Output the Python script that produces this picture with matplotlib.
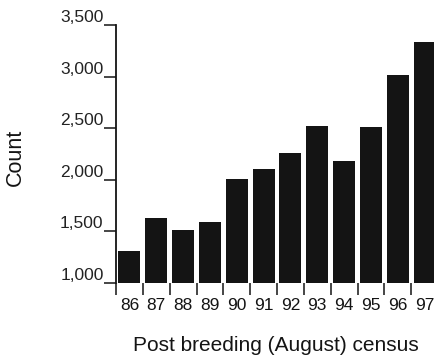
import matplotlib
matplotlib.use("Agg")
import matplotlib.pyplot as plt
import numpy as np

years = ["86", "87", "88", "89", "90", "91", "92", "93", "94", "95", "96", "97"]
counts = [1310, 1627, 1510, 1588, 2005, 2105, 2257, 2521, 2179, 2515, 3012, 3332]
yticks = [1000, 1500, 2000, 2500, 3000, 3500]
ytick_labels = ["1,000", "1,500", "2,000", "2,500", "3,000", "3,500"]

plt.rcParams['font.family'] = ['Liberation Sans', 'DejaVu Sans']

W, H = 434, 358
fig = plt.figure(figsize=(W / 100, H / 100), dpi=100)
fig.patch.set_facecolor('white')
left, right = 116 / W, 438 / W
bottom, top = (H - 283) / H, (H - 25) / H
ax = fig.add_axes([left, bottom, right - left, top - bottom])

x = np.arange(len(years))
ax.bar(x, counts, width=0.82, color='#141414', bottom=0)
ax.set_ylim(1000, 3500)
ax.set_xlim(-0.5, len(years) - 0.5)

for s in ['top', 'right', 'bottom']:
    ax.spines[s].set_visible(False)
ax.spines['left'].set_linewidth(1.3)
ax.spines['left'].set_color('#141414')

ax.set_yticks(yticks)
ax.set_yticklabels(ytick_labels, fontsize=12.5, color='#222222')
ax.tick_params(axis='y', direction='out', length=9, width=1.1, pad=0, color='#141414')
for lbl in ax.get_yticklabels():
    lbl.set_va('bottom')

ax.set_xticks(np.arange(len(years) + 1) - 0.5)
ax.set_xticklabels([''] * (len(years) + 1))
ax.set_xticks(x, minor=True)
ax.set_xticklabels(years, minor=True, fontsize=12.5, color='#141414')
ax.tick_params(axis='x', which='major', direction='out', length=8.6, width=1.1, color='#141414')
ax.tick_params(axis='x', which='minor', length=0, pad=11)

fig.text(15 / W, (H - 157) / H, 'Count', fontsize=15.5, rotation=90,
         ha='center', va='center', color='#141414')

fig.text(276 / W, (H - 351) / H, 'Post breeding (August) census', fontsize=15,
         ha='center', va='baseline', color='#141414')

fig.savefig('out.png', dpi=100)
